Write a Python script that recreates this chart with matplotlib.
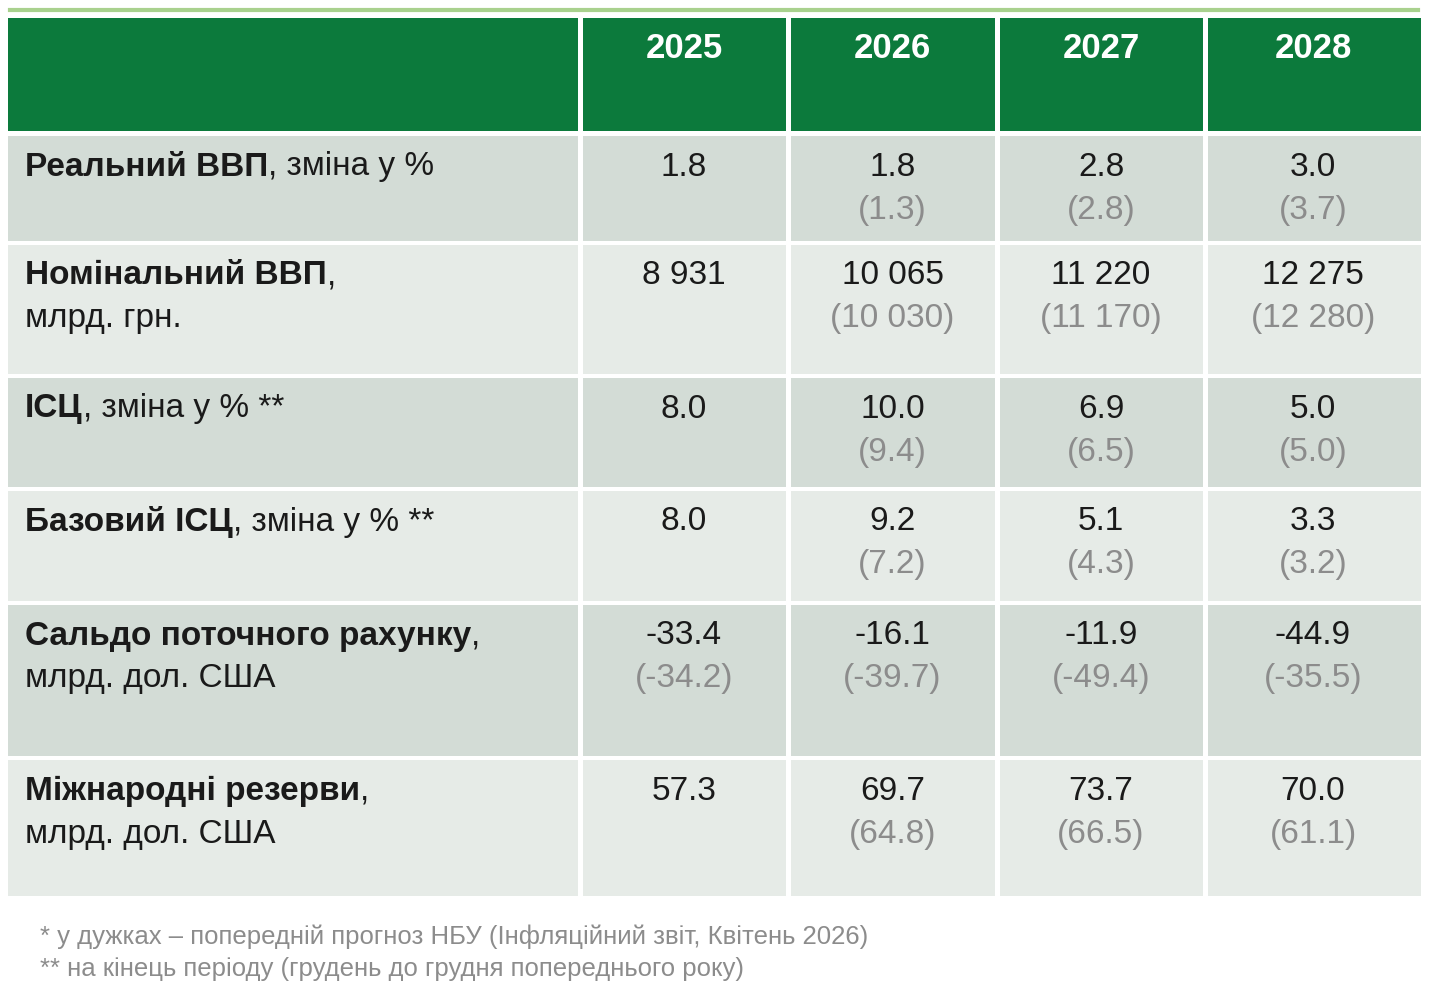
import matplotlib
matplotlib.use("Agg")
import matplotlib.pyplot as plt
from matplotlib.patches import Rectangle

plt.rcParams['font.family'] = ['Liberation Sans', 'DejaVu Sans']

years = ["2025", "2026", "2027", "2028"]
label_bold = ["Реальний ВВП", "Номінальний ВВП", "ІСЦ", "Базовий ІСЦ",
              "Сальдо поточного рахунку", "Міжнародні резерви"]
label_rest = [", зміна у %", ",\nмлрд. грн.", ", зміна у % **", ", зміна у % **",
              ",\nмлрд. дол. США", ",\nмлрд. дол. США"]
current = [["1.8", "1.8", "2.8", "3.0"],
           ["8 931", "10 065", "11 220", "12 275"],
           ["8.0", "10.0", "6.9", "5.0"],
           ["8.0", "9.2", "5.1", "3.3"],
           ["-33.4", "-16.1", "-11.9", "-44.9"],
           ["57.3", "69.7", "73.7", "70.0"]]
previous = [["", "(1.3)", "(2.8)", "(3.7)"],
            ["", "(10 030)", "(11 170)", "(12 280)"],
            ["", "(9.4)", "(6.5)", "(5.0)"],
            ["", "(7.2)", "(4.3)", "(3.2)"],
            ["(-34.2)", "(-39.7)", "(-49.4)", "(-35.5)"],
            ["", "(64.8)", "(66.5)", "(61.1)"]]
footnotes = ["* у дужках – попередній прогноз НБУ (Інфляційний звіт, Квітень 2026)",
             "** на кінець періоду (грудень до грудня попереднього року)"]

col_x = [8, 580, 788, 997, 1205, 1421]
row_y = [(136, 241), (245, 374), (378, 487), (491, 601), (605, 756), (760, 896)]
green = "#0c7a3c"
shades = ["#d3dcd6", "#e6ebe7"]
gap = 2.5
fs = 24

fig = plt.figure(figsize=(14.4, 10.07), dpi=100)
ax = fig.add_axes([0, 0, 1, 1])
ax.set_xlim(0, 1440)
ax.set_ylim(1007, 0)
ax.axis("off")

ax.plot([10, 1418], [10, 10], color="#a9d18e", lw=3)

# header
for j in range(5):
    x0, x1 = col_x[j], col_x[j + 1]
    ax.add_patch(Rectangle((x0 + gap * (j > 0), 18), x1 - x0 - gap * (j > 0) - gap * (j < 4), 113,
                           facecolor=green, edgecolor="none"))
    if j > 0:
        ax.text((x0 + x1) / 2, 49, years[j - 1], ha="center", va="center",
                fontsize=25, fontweight="bold", color="white")

fig.canvas.draw()
renderer = fig.canvas.get_renderer()

for i, (y0, y1) in enumerate(row_y):
    for j in range(5):
        x0, x1 = col_x[j], col_x[j + 1]
        ax.add_patch(Rectangle((x0 + gap * (j > 0), y0), x1 - x0 - gap * (j > 0) - gap * (j < 4), y1 - y0,
                               facecolor=shades[i % 2], edgecolor="none"))
    t = ax.text(25, y0 + 31, label_bold[i], ha="left", va="center",
                fontsize=fs, fontweight="bold", color="#1a1a1a")
    bb = t.get_window_extent(renderer)
    first, _, second = label_rest[i].partition("\n")
    ax.text(25 + bb.width, y0 + 31, first, ha="left", va="center",
            fontsize=fs, color="#1a1a1a")
    if second:
        ax.text(25, y0 + 74, second, ha="left", va="center", fontsize=fs, color="#1a1a1a")
    for j in range(4):
        xc = (col_x[j + 1] + col_x[j + 2]) / 2
        ax.text(xc, y0 + 31, current[i][j], ha="center", va="center",
                fontsize=fs, color="#1a1a1a")
        if previous[i][j]:
            ax.text(xc, y0 + 74, previous[i][j], ha="center", va="center",
                    fontsize=fs, color="#8c8c8c")

ax.text(40, 937, footnotes[0], ha="left", va="center", fontsize=18.5, color="#8c8c8c")
ax.text(40, 969, footnotes[1], ha="left", va="center", fontsize=18.5, color="#8c8c8c")

fig.savefig("out.png", dpi=100)
